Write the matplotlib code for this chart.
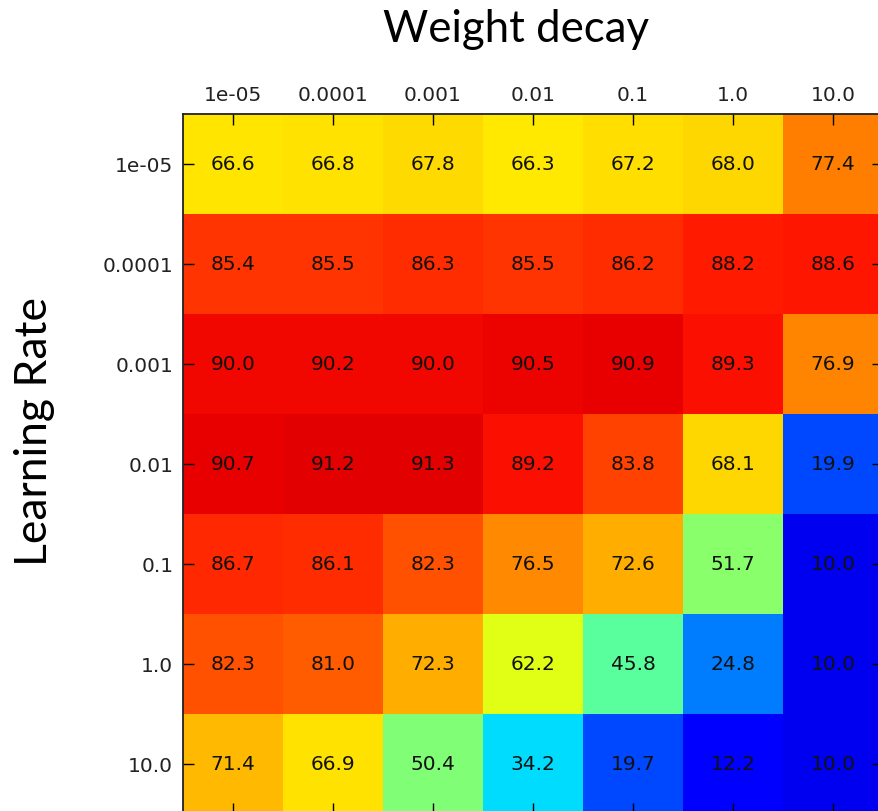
import numpy as np
from matplotlib import pyplot as plt

# hyper-parameter grid (accuracy %)
weight_decay = ['1e-05', '0.0001', '0.001', '0.01', '0.1', '1.0', '10.0']
learning_rate = ['1e-05', '0.0001', '0.001', '0.01', '0.1', '1.0', '10.0']

row_1e05 = [66.6, 66.8, 67.8, 66.3, 67.2, 68.0, 77.4]
row_1e04 = [85.4, 85.5, 86.3, 85.5, 86.2, 88.2, 88.6]
row_1e03 = [90.0, 90.2, 90.0, 90.5, 90.9, 89.3, 76.9]
row_1e02 = [90.7, 91.2, 91.3, 89.2, 83.8, 68.1, 19.9]
row_1e01 = [86.7, 86.1, 82.3, 76.5, 72.6, 51.7, 10.0]
row_1e00 = [82.3, 81.0, 72.3, 62.2, 45.8, 24.8, 10.0]
row_1e10 = [71.4, 66.9, 50.4, 34.2, 19.7, 12.2, 10.0]

acc = np.array([row_1e05, row_1e04, row_1e03, row_1e02, row_1e01, row_1e00, row_1e10])

fig = plt.figure(figsize=(8.79, 8.12), dpi=100)
W, H = 879., 812.
ax = fig.add_axes([183/W, (H-815)/H, 700/W, 700/H])

ax.imshow(acc, cmap='jet', vmin=0, vmax=100, interpolation='nearest', aspect='auto')

for i in range(acc.shape[0]):
    for j in range(acc.shape[1]):
        ax.text(j, i, '%.1f' % acc[i, j], ha='center', va='center',
                fontsize=14.5, color='#111111')

ax.set_xticks(range(len(weight_decay)))
ax.set_xticklabels(weight_decay)
ax.set_yticks(range(len(learning_rate)))
ax.set_yticklabels(learning_rate)
ax.xaxis.tick_top()
ax.tick_params(axis='both', which='both', direction='in', length=8, width=1,
               labelsize=14.5, pad=7, top=True, bottom=True, left=True, right=True,
               labeltop=True, labelbottom=False, labelcolor='#222222')
for s in ax.spines.values():
    s.set_linewidth(1.3)
    s.set_color('#222222')

fig.text(516/W, 1 - 30/H, 'Weight decay', fontsize=31.5, family='Lato',
         ha='center', va='center')
fig.text(35/W, 1 - 432/H, 'Learning Rate', fontsize=32, family='Lato',
         ha='center', va='center', rotation=90)

fig.savefig('out.png', dpi=100)
